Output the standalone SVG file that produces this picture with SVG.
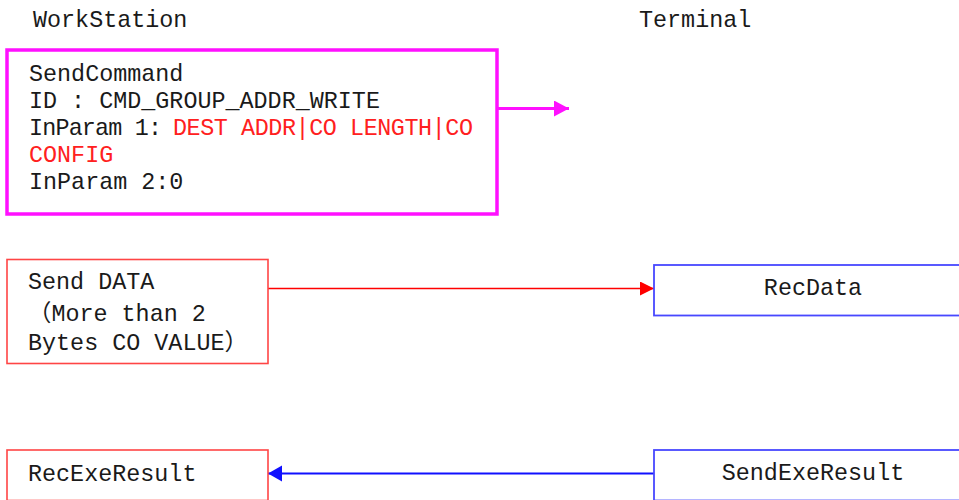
<svg xmlns="http://www.w3.org/2000/svg" width="959" height="500" viewBox="0 0 959 500">
<style>
text{font-family:"Liberation Mono","Noto Sans CJK SC",monospace;font-size:23.4px;fill:#1a1a1a}
.red{fill:#ff2020}
.mag{fill:#fff;stroke:#ff10ff;stroke-width:3.5}
.rbox{fill:#fff;stroke:#ff4545;stroke-width:1.6}
.bbox{fill:#fff;stroke:#4848ff;stroke-width:1.8}
</style>
<defs>
<marker id="mArr" markerUnits="userSpaceOnUse" markerWidth="16" markerHeight="16" refX="15" refY="8" orient="auto"><path d="M0,0 L15,8 L0,16 z" fill="#ff10ff"/></marker>
<marker id="rArr" markerUnits="userSpaceOnUse" markerWidth="15" markerHeight="15" refX="14" refY="7" orient="auto"><path d="M0,0 L14,7 L0,14 z" fill="#ff0000"/></marker>
<marker id="bArr" markerUnits="userSpaceOnUse" markerWidth="15" markerHeight="17" refX="14" refY="8" orient="auto"><path d="M0,0 L14,8 L0,16 z" fill="#1010ff"/></marker>
</defs>
<rect width="959" height="500" fill="#fff"/>
<g id="labels">
<text x="33" y="27">WorkStation</text>
<text x="639" y="27">Terminal</text>
</g>
<g id="connectors">
<line x1="497" y1="108.5" x2="569" y2="108.5" stroke="#ff10ff" stroke-width="3" marker-end="url(#mArr)"/>
<line x1="268" y1="288.5" x2="654" y2="288.5" stroke="#ff0000" stroke-width="1.6" marker-end="url(#rArr)"/>
<line x1="654" y1="473.5" x2="268" y2="473.5" stroke="#1010ff" stroke-width="2" marker-end="url(#bArr)"/>
</g>
<g id="sendCommand">
<rect class="mag" x="7" y="50" width="490" height="164"/>
<text x="29" y="81">SendCommand</text>
<text x="29" y="108">ID : CMD_GROUP_ADDR_WRITE</text>
<text x="29" y="135" textLength="133" lengthAdjust="spacing">InParam 1:</text>
<text class="red" x="173" y="135" textLength="300" lengthAdjust="spacing">DEST ADDR|CO LENGTH|CO</text>
<text class="red" x="29" y="162">CONFIG</text>
<text x="29" y="189">InParam 2:0</text>
</g>
<g id="sendData">
<rect class="rbox" x="7" y="259.5" width="261" height="104"/>
<text x="28" y="289">Send DATA</text>
<text x="28" y="321">（More than 2</text>
<text x="28" y="350">Bytes CO VALUE）</text>
</g>
<g id="recData">
<rect class="bbox" x="654" y="265" width="310" height="50.5"/>
<text x="813" y="295" text-anchor="middle">RecData</text>
</g>
<g id="recExeResult">
<rect class="rbox" x="7" y="450" width="261" height="50.5"/>
<text x="28" y="481">RecExeResult</text>
</g>
<g id="sendExeResult">
<rect class="bbox" x="654" y="450" width="310" height="50.5"/>
<text x="813" y="480" text-anchor="middle">SendExeResult</text>
</g>
</svg>
